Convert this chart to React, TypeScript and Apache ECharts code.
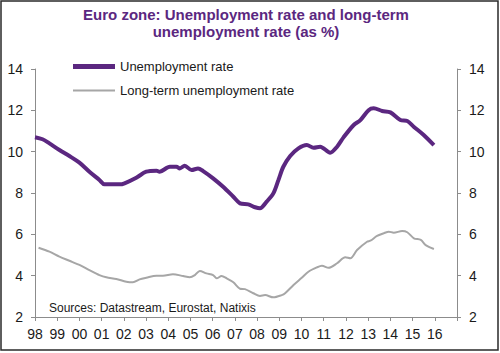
import React, { useEffect, useRef } from "react";
import * as echarts from "echarts";

const titleText = "Euro zone: Unemployment rate and long-term\nunemployment rate (as %)";
const sourceText = "Sources: Datastream, Eurostat, Natixis";
const seriesNames = ["Unemployment rate", "Long-term unemployment rate"];

// Unemployment rate (decimal year, %)
const unempTimes = [
  1998.0, 1998.34, 1998.65, 1999.1, 1999.55, 2000.0, 2000.45, 2000.9, 2001.13, 2001.81,
  2002.03, 2002.56, 2003.01, 2003.47, 2003.61, 2004.07, 2004.37, 2004.52, 2004.74, 2005.05,
  2005.34, 2005.57, 2006.02, 2006.47, 2006.93, 2007.23, 2007.6, 2007.91, 2008.13, 2008.43,
  2008.73, 2008.96, 2009.18, 2009.49, 2009.86, 2010.24, 2010.54, 2010.84, 2011.29, 2011.6,
  2011.89, 2012.35, 2012.65, 2013.02, 2013.25, 2013.63, 2014.0, 2014.45, 2014.76, 2015.05,
  2015.5, 2015.96,
];
const unempValues = [
  10.7, 10.6, 10.4, 10.08, 9.79, 9.47, 9.03, 8.63, 8.42, 8.42,
  8.47, 8.74, 9.03, 9.08, 9.03, 9.27, 9.27, 9.19, 9.32, 9.11,
  9.19, 9.06, 8.71, 8.3, 7.82, 7.5, 7.45, 7.31, 7.26, 7.58,
  7.98, 8.63, 9.27, 9.79, 10.16, 10.32, 10.19, 10.24, 9.95, 10.24,
  10.69, 11.29, 11.53, 12.01, 12.1, 11.97, 11.9, 11.53, 11.48, 11.21,
  10.81, 10.32,
];

// Long-term unemployment rate (decimal year, %)
const ltTimes = [
  1998.16, 1998.65, 1999.1, 1999.55, 2000.0, 2000.45, 2000.9, 2001.21, 2001.66, 2002.11,
  2002.41, 2002.71, 2003.01, 2003.47, 2003.76, 2004.21, 2004.67, 2004.97, 2005.2, 2005.42,
  2005.72, 2006.02, 2006.18, 2006.4, 2006.63, 2006.93, 2007.23, 2007.45, 2007.83, 2008.13,
  2008.36, 2008.73, 2009.11, 2009.26, 2009.64, 2010.01, 2010.31, 2010.69, 2010.92, 2011.22,
  2011.6, 2011.97, 2012.2, 2012.5, 2012.95, 2013.1, 2013.4, 2013.7, 2013.93, 2014.15,
  2014.53, 2014.76, 2015.06, 2015.37, 2015.59, 2015.96,
];
const ltValues = [
  5.35, 5.16, 4.92, 4.72, 4.52, 4.27, 4.03, 3.92, 3.84, 3.71,
  3.68, 3.82, 3.9, 4.0, 4.0, 4.07, 3.98, 3.92, 4.03, 4.23,
  4.11, 4.03, 3.87, 3.98, 3.87, 3.68, 3.37, 3.35, 3.15, 3.02,
  3.06, 2.95, 3.06, 3.15, 3.55, 3.9, 4.19, 4.4, 4.48, 4.38,
  4.6, 4.89, 4.84, 5.24, 5.64, 5.69, 5.92, 6.05, 6.13, 6.08,
  6.16, 6.1, 5.81, 5.73, 5.48, 5.29,
];

const xMin = 1998;
const xMax = 2017;
const yMin = 2;
const yMax = 14;
const yStep = 2;

const PURPLE = "#5b2780";
const GREY = "#a6a6a6";
const AXIS = "#8c8c8c";
const TEXT = "#1a1a1a";
const FONT = "'Liberation Sans', Arial, sans-serif";

function yearLabel(v: number): string {
  if (v >= xMax) return "";
  const yy = Math.round(v) % 100;
  return yy < 10 ? "0" + yy : String(yy);
}

export default function App() {
  const ref = useRef<HTMLDivElement>(null);

  useEffect(() => {
    if (!ref.current) return;
    const chart = echarts.init(ref.current, undefined, { renderer: "svg" });
    const unempData = unempTimes.map((t, i) => [t, unempValues[i]]);
    const ltData = ltTimes.map((t, i) => [t, ltValues[i]]);

    const yAxisCommon = {
      type: "value" as const,
      min: yMin,
      max: yMax,
      interval: yStep,
      splitLine: { show: false },
      axisLine: { show: true, lineStyle: { color: AXIS, width: 1 } },
      axisTick: { show: true, inside: false, length: 4, lineStyle: { color: AXIS } },
    };

    chart.setOption({
      animation: false,
      backgroundColor: "#ffffff",
      textStyle: { fontFamily: FONT },
      title: {
        text: titleText,
        left: 241,
        textAlign: "center",
        top: 1,
        textStyle: {
          fontFamily: FONT,
          fontSize: 15,
          fontWeight: "bold",
          color: PURPLE,
          lineHeight: 17,
        },
      },
      legend: [
        {
          data: [seriesNames[0]],
          left: 73,
          top: 60,
          padding: 0,
          icon: "rect",
          itemWidth: 42,
          itemHeight: 5,
          textStyle: { fontFamily: FONT, fontSize: 13, color: TEXT },
          selectedMode: false,
        },
        {
          data: [seriesNames[1]],
          left: 73,
          top: 84,
          padding: 0,
          icon: "rect",
          itemWidth: 42,
          itemHeight: 2,
          textStyle: { fontFamily: FONT, fontSize: 13, color: TEXT },
          selectedMode: false,
        },
      ],
      grid: { left: 35, right: 43, top: 69, bottom: 36, containLabel: false },
      xAxis: {
        type: "value",
        min: xMin,
        max: xMax,
        interval: 1,
        splitLine: { show: false },
        axisLine: { show: true, lineStyle: { color: AXIS, width: 1 } },
        axisTick: { show: true, inside: false, length: 4, lineStyle: { color: AXIS } },
        axisLabel: {
          formatter: yearLabel,
          fontFamily: FONT,
          fontSize: 14,
          color: TEXT,
          margin: 10,
          showMaxLabel: true,
        },
      },
      yAxis: [
        {
          ...yAxisCommon,
          position: "left",
          axisLabel: { fontFamily: FONT, fontSize: 14, color: TEXT, margin: 12 },
        },
        {
          ...yAxisCommon,
          position: "right",
          axisLabel: { fontFamily: FONT, fontSize: 14, color: TEXT, margin: 12 },
        },
      ],
      series: [
        {
          name: seriesNames[0],
          type: "line",
          data: unempData,
          showSymbol: false,
          smooth: 0.3,
          lineStyle: { color: PURPLE, width: 4 },
          itemStyle: { color: PURPLE },
          z: 3,
        },
        {
          name: seriesNames[1],
          type: "line",
          data: ltData,
          showSymbol: false,
          smooth: 0.3,
          lineStyle: { color: GREY, width: 2 },
          itemStyle: { color: GREY },
          z: 2,
        },
      ],
      graphic: [
        {
          type: "text",
          left: 49,
          top: 302,
          style: { text: sourceText, fontFamily: FONT, fontSize: 12, fill: TEXT },
        },
        {
          type: "rect",
          shape: { x: 1, y: 1, width: 497, height: 349 },
          style: { fill: "none", stroke: "#2a2a2a", lineWidth: 1.5 },
          silent: true,
        },
      ],
    });

    return () => chart.dispose();
  }, []);

  return (
    <div
      ref={ref}
      style={{ position: "fixed", left: 0, top: 0, width: 500, height: 353, background: "#fff" }}
    />
  );
}
